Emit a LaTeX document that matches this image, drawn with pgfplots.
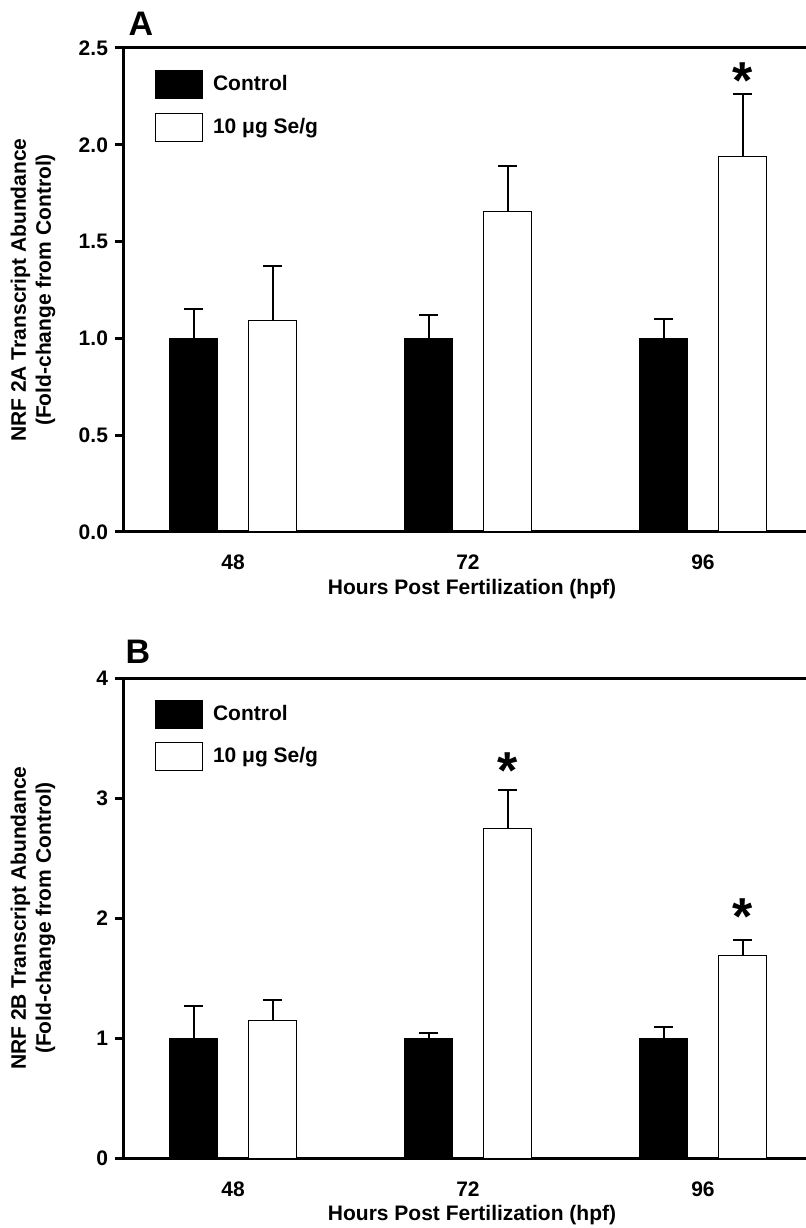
\documentclass[border=0pt]{standalone}
\usepackage{fontspec}
\setmainfont{Liberation Sans}
\usepackage{pgfplots}
\pgfplotsset{compat=1.18}
\newcommand{\lbl}{\bfseries\fontsize{10.5}{12.6}\selectfont}
\tikzset{sigstar/.style={font=\bfseries\fontsize{26}{26}\selectfont, anchor=base, inner sep=0pt, yshift=2.5pt}}
\begin{document}
\begin{tikzpicture}[x=1pt,y=1pt]
\useasboundingbox (0,0) rectangle (403,614);
\pgfplotsset{
  panel/.style={
    scale only axis, width=341.5pt,
    xmin=-0.4681, xmax=2.4383, ymin=0,
    axis x line*=box, axis y line*=left,
    axis line style={line width=1.5pt, black},
    xtick={0,1,2}, xticklabels={48,72,96},
    xtick style={draw=none},
    tick align=outside, major tick length=4pt,
    ytick style={line width=1.5pt, black},
    minor tick num=0,
    ybar, bar width=24pt,
    ticklabel style={font=\lbl},
    /pgf/number format/assume math mode=true,
    xticklabel style={anchor=base, yshift=-15pt},
    xlabel={Hours Post Fertilization (hpf)},
    xlabel style={at={(axis description cs:0.511,-0.118)}, anchor=center, font=\lbl},
    ylabel style={at={(axis description cs:-0.1318,0.5)}, anchor=center, align=center, font=\lbl},
    legend style={at={(axis description cs:0.0469,0.9545)}, anchor=north west, draw=none, fill=none,
      inner sep=0pt, outer sep=0pt, row sep=6.75pt, font=\lbl,
      nodes={inner sep=0pt, anchor=west},
      /tikz/every odd column/.append style={column sep=5pt}},
    legend image code/.code={\draw[#1] (0pt,-7pt) rectangle (23.5pt,7pt);},
    clip=false,
  },
  ctrl/.style={fill=black, draw=black, line width=0.5pt, bar shift=-19.75pt,
    error bars/.cd, y dir=plus, y explicit,
    error bar style={line width=1pt, black},
    error mark options={rotate=90, mark size=4.75pt, line width=1pt, black}},
  trt/.style={fill=white, draw=black, line width=0.5pt, bar shift=19.75pt,
    error bars/.cd, y dir=plus, y explicit,
    error bar style={line width=1pt, black},
    error mark options={rotate=90, mark size=4.75pt, line width=1pt, black}},
}
% Panel A
\begin{axis}[panel, at={(61.5pt,348pt)}, anchor=south west, height=242pt,
  ymax=2.5, ytick={0,0.5,1,1.5,2,2.5},
  yticklabel style={/pgf/number format/.cd, fixed, fixed zerofill, precision=1},
  ylabel={NRF 2A Transcript Abundance\\(Fold-change from Control)}]
\addplot[ctrl] coordinates {(0,1.00) +- (0,0.15) (1,1.00) +- (0,0.12) (2,1.00) +- (0,0.10)};
\addlegendentry{Control}
\addplot[trt] coordinates {(0,1.095) +- (0,0.28) (1,1.655) +- (0,0.235) (2,1.94) +- (0,0.32)};
\addlegendentry{10 μg Se/g}
\node[sigstar] at (axis cs:2.168,2.214) {*};
\end{axis}
\node[font=\bfseries\fontsize{17}{17}\selectfont] at (70.5,602) {A};
% Panel B
\begin{axis}[panel, at={(61.5pt,35pt)}, anchor=south west, height=240pt,
  ymax=4, ytick={0,1,2,3,4},
  ylabel={NRF 2B Transcript Abundance\\(Fold-change from Control)}]
\addplot[ctrl] coordinates {(0,1.00) +- (0,0.27) (1,1.00) +- (0,0.04) (2,1.00) +- (0,0.09)};
\addlegendentry{Control}
\addplot[trt] coordinates {(0,1.145) +- (0,0.17) (1,2.745) +- (0,0.325) (2,1.685) +- (0,0.135)};
\addlegendentry{10 μg Se/g}
\node[sigstar] at (axis cs:1.168,3.04) {*};
\node[sigstar] at (axis cs:2.168,1.82) {*};
\end{axis}
\node[font=\bfseries\fontsize{17}{17}\selectfont] at (69,288) {B};
\end{tikzpicture}
\end{document}
